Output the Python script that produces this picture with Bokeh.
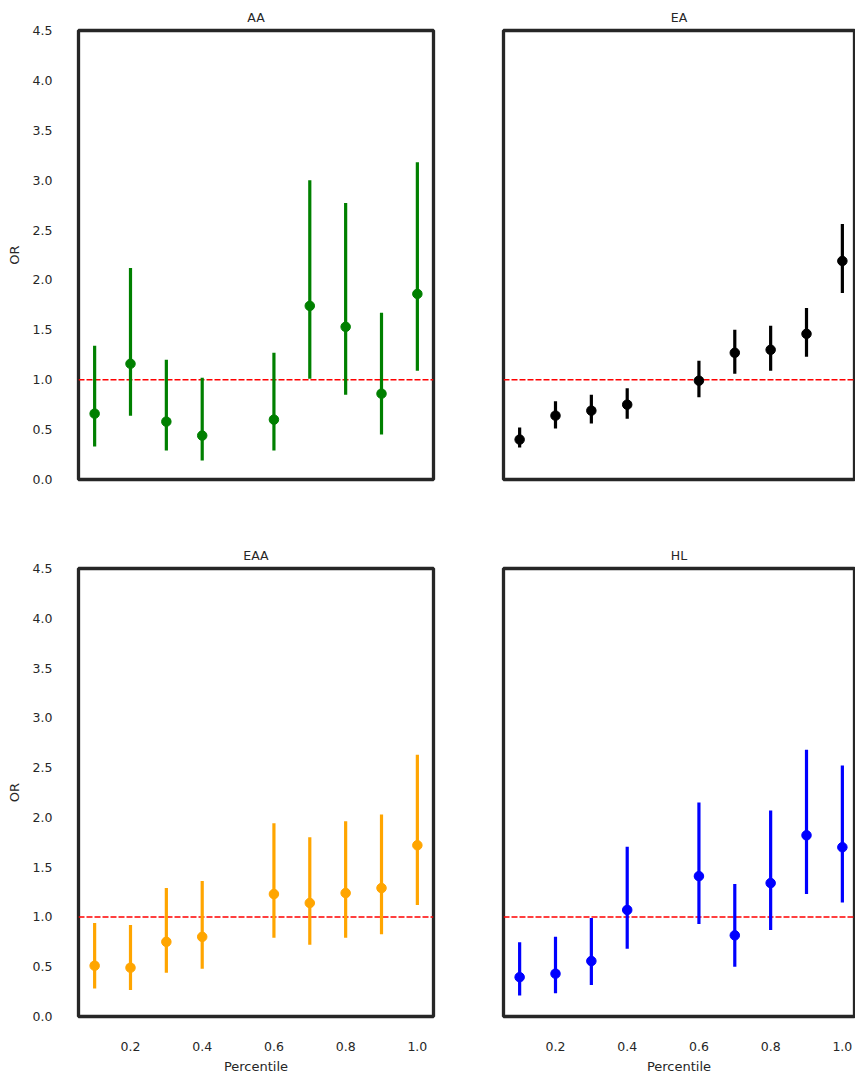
from bokeh.plotting import figure
from bokeh.layouts import column, row
from bokeh.models import Span, FixedTicker, PrintfTickFormatter, Range1d
from bokeh.embed import file_html
from bokeh.resources import INLINE

percentile = [0.1, 0.2, 0.3, 0.4, 0.6, 0.7, 0.8, 0.9, 1.0]

aa_or = [0.66, 1.16, 0.58, 0.44, 0.60, 1.74, 1.53, 0.86, 1.86]
aa_lo = [0.33, 0.64, 0.29, 0.19, 0.29, 1.01, 0.85, 0.45, 1.09]
aa_hi = [1.34, 2.12, 1.20, 1.02, 1.27, 3.00, 2.77, 1.67, 3.18]

ea_or = [0.40, 0.64, 0.69, 0.75, 0.99, 1.27, 1.30, 1.46, 2.19]
ea_lo = [0.32, 0.51, 0.56, 0.61, 0.825, 1.06, 1.09, 1.23, 1.87]
ea_hi = [0.52, 0.785, 0.85, 0.915, 1.19, 1.50, 1.54, 1.72, 2.56]

eaa_or = [0.51, 0.49, 0.75, 0.80, 1.23, 1.14, 1.24, 1.29, 1.72]
eaa_lo = [0.28, 0.265, 0.44, 0.48, 0.79, 0.72, 0.79, 0.825, 1.12]
eaa_hi = [0.94, 0.92, 1.29, 1.36, 1.94, 1.80, 1.96, 2.03, 2.63]

hl_or = [0.395, 0.43, 0.557, 1.07, 1.41, 0.815, 1.34, 1.82, 1.70]
hl_lo = [0.21, 0.234, 0.316, 0.68, 0.93, 0.50, 0.87, 1.23, 1.145]
hl_hi = [0.746, 0.80, 0.99, 1.705, 2.15, 1.33, 2.07, 2.68, 2.52]

y_ticks = [0.0, 0.5, 1.0, 1.5, 2.0, 2.5, 3.0, 3.5, 4.0, 4.5]
x_ticks = [0.2, 0.4, 0.6, 0.8, 1.0]

FONT = "DejaVu Sans"
TXT = "#262626"
PX_PER_UNIT = 355 / 0.99


def panel(title, orv, lo, hi, color, is_left, is_bottom):
    frame_w = 355 if is_left else 351
    b_left = 78 if is_left else 35
    b_right = 35 if is_left else 1
    b_top = 30
    b_bottom = 59
    frame_h = 449
    x0 = 0.055
    x1 = x0 + frame_w / PX_PER_UNIT
    p = figure(width=b_left + frame_w + b_right, height=b_top + frame_h + b_bottom,
               x_range=Range1d(x0, x1), y_range=Range1d(0, 4.5),
               output_backend="svg", toolbar_location=None,
               min_border_left=b_left, min_border_right=b_right,
               min_border_top=b_top, min_border_bottom=b_bottom,
               background_fill_color="white", border_fill_color="white")
    p.title.text = title
    p.title.align = "center"
    p.title.text_font = FONT
    p.title.text_font_size = "12.5px"
    p.title.text_font_style = "normal"
    p.title.text_color = TXT
    p.title.standoff = 12
    p.outline_line_color = TXT
    p.outline_line_width = 3.3
    p.xgrid.visible = False
    p.ygrid.visible = False

    for ax in (p.xaxis[0], p.yaxis[0]):
        ax.axis_line_color = None
        ax.major_tick_line_color = None
        ax.minor_tick_line_color = None
        ax.major_tick_out = 0
        ax.major_tick_in = 0
        ax.minor_tick_out = 0
        ax.minor_tick_in = 0
        ax.major_label_text_font = FONT
        ax.major_label_text_font_size = "12.5px"
        ax.major_label_text_color = TXT
        ax.axis_label_text_font = FONT
        ax.axis_label_text_font_size = "13px"
        ax.axis_label_text_font_style = "normal"
        ax.axis_label_text_color = TXT
        ax.formatter = PrintfTickFormatter(format="%.1f")

    p.yaxis.ticker = FixedTicker(ticks=y_ticks)
    p.xaxis.ticker = FixedTicker(ticks=x_ticks)
    if is_left:
        p.yaxis.axis_label = "OR"
        p.yaxis.major_label_standoff = 26
        p.yaxis.axis_label_standoff = 8
    else:
        p.yaxis.visible = False
    if is_bottom:
        p.xaxis.axis_label = "Percentile"
        p.xaxis.major_label_standoff = 25
        p.xaxis.axis_label_standoff = 5
    else:
        p.xaxis.visible = False

    p.add_layout(Span(location=1.0, dimension="width", line_color="red",
                      line_width=1.5, line_dash="6 2", level="underlay"))
    p.segment(x0=percentile, y0=lo, x1=percentile, y1=hi,
              line_color=color, line_width=3.2)
    p.scatter(percentile, orv, size=9.5, fill_color=color, line_color=color)
    return p


p1 = panel("AA", aa_or, aa_lo, aa_hi, "#008000", True, False)
p2 = panel("EA", ea_or, ea_lo, ea_hi, "#000000", False, False)
p3 = panel("EAA", eaa_or, eaa_lo, eaa_hi, "#FFA500", True, True)
p4 = panel("HL", hl_or, hl_lo, hl_hi, "#0000FF", False, True)

layout = column(row(p1, p2), row(p3, p4))

open("out.html", "w").write(file_html(layout, INLINE))
